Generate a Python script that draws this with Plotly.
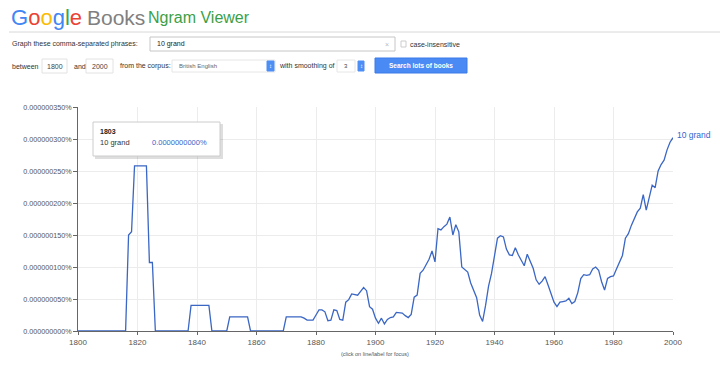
import plotly.graph_objects as go

# ---------------- data ----------------
years = list(range(1800, 2001))
# values in units of 1e-6 percent (e.g. 0.258 -> 0.000000258%)
vals_1800s = [0, 0, 0, 0, 0, 0, 0, 0, 0, 0,
              0, 0, 0, 0, 0, 0, 0, 0.15, 0.155, 0.258,
              0.258, 0.258, 0.258, 0.258, 0.107, 0.107, 0, 0, 0, 0,
              0, 0, 0, 0, 0, 0, 0, 0, 0.04, 0.04,
              0.04, 0.04, 0.04, 0.04, 0.04, 0, 0, 0, 0, 0,
              0, 0.022, 0.022, 0.022, 0.022, 0.022, 0.022, 0.022, 0, 0,
              0, 0, 0, 0, 0, 0, 0, 0, 0, 0,
              0.022, 0.022, 0.022, 0.022, 0.022, 0.022, 0.02, 0.017, 0.017, 0.017,
              0.025, 0.033, 0.033, 0.03, 0.016, 0.017, 0.033, 0.032, 0.018, 0.017,
              0.045, 0.049, 0.058, 0.057, 0.056, 0.062, 0.068, 0.063, 0.038, 0.034]
vals_1900s = [0.02, 0.012, 0.02, 0.011, 0.018, 0.021, 0.022, 0.029, 0.029, 0.028,
              0.024, 0.021, 0.026, 0.053, 0.056, 0.09, 0.095, 0.104, 0.112, 0.125,
              0.108, 0.16, 0.158, 0.163, 0.167, 0.178, 0.15, 0.166, 0.155, 0.1,
              0.096, 0.092, 0.075, 0.063, 0.052, 0.025, 0.015, 0.04, 0.07, 0.09,
              0.12, 0.145, 0.149, 0.147, 0.128, 0.119, 0.118, 0.13, 0.119, 0.11,
              0.102, 0.12, 0.11, 0.098, 0.08, 0.073, 0.078, 0.085, 0.072, 0.058,
              0.045, 0.038, 0.045, 0.046, 0.047, 0.051, 0.043, 0.046, 0.06, 0.082,
              0.088, 0.087, 0.088, 0.097, 0.1, 0.095, 0.077, 0.064, 0.082, 0.085,
              0.086, 0.097, 0.108, 0.118, 0.145, 0.152, 0.165, 0.177, 0.186, 0.192,
              0.213, 0.189, 0.21, 0.228, 0.224, 0.25, 0.26, 0.267, 0.283, 0.295,
              0.302]
series_name = "10 grand"
x_ticks = [1800, 1820, 1840, 1860, 1880, 1900, 1920, 1940, 1960, 1980, 2000]
y_ticks = [0, 0.05, 0.10, 0.15, 0.20, 0.25, 0.30, 0.35]  # units of 1e-6 %
y_tick_labels = ["0.000000000%", "0.000000050%", "0.000000100%", "0.000000150%",
                 "0.000000200%", "0.000000250%", "0.000000300%", "0.000000350%"]
tooltip_year = "1803"
tooltip_value = "0.0000000000%"

values = [v * 1e-6 for v in vals_1800s + vals_1900s]
yticks_pct = [t * 1e-6 for t in y_ticks]

# ---------------- geometry helpers ----------------
W, H = 720, 368
ML, MR, MT, MB = 78, 47, 107, 37
PW, PH = W - ML - MR, H - MT - MB


def X(px):
    return (px - ML) / PW


def Y(py):
    return (H - MB - py) / PH


FONT = "Liberation Sans, Arial, sans-serif"

fig = go.Figure()
fig.add_trace(go.Scatter(
    x=years, y=values, mode="lines", name=series_name,
    line=dict(color="#3a66c4", width=1.3), hoverinfo="skip", showlegend=False))

annotations = []
shapes = []


def txt(text, px, py, size=7, color="#333", xanchor="left", family=FONT):
    annotations.append(dict(text=text, x=X(px), y=Y(py), xref="paper", yref="paper",
                            xanchor=xanchor, yanchor="middle", showarrow=False,
                            font=dict(size=size, color=color, family=family)))


def rect(x0, y0, x1, y1, line="#cfcfcf", fill="white", lw=1):
    shapes.append(dict(type="rect", xref="paper", yref="paper",
                       x0=X(x0), x1=X(x1), y0=Y(y1), y1=Y(y0),
                       line=dict(color=line, width=lw), fillcolor=fill, layer="above"))


# header
google = ("<span style='color:#4285f4'>G</span><span style='color:#ea4335'>o</span>"
          "<span style='color:#fbbc05'>o</span><span style='color:#4285f4'>g</span>"
          "<span style='color:#34a853'>l</span><span style='color:#ea4335'>e</span>")
txt(google, 9, 17, size=22)
txt("Books", 85, 17, size=21, color="#808080")
txt("Ngram Viewer", 146, 17, size=16, color="#3c9f47")
shapes.append(dict(type="line", xref="paper", yref="paper", x0=X(9), x1=X(720),
                   y0=Y(32), y1=Y(32), line=dict(color="#d8d8d8", width=1)))

# row 1
txt("Graph these comma-separated phrases:", 10, 44, size=7)
rect(150, 37, 395, 51, line="#c6c6c6")
txt(series_name, 155, 44, size=7, color="#222")
txt("×", 387, 44, size=7, color="#bbb", xanchor="center")
rect(401, 41, 406, 47, line="#cccccc")
txt("case-insensitive", 408, 44, size=7)

# row 2
txt("between", 10, 66, size=7)
rect(42, 59, 67, 73, line="#e2e2e2")
txt("1800", 54.5, 66, size=7, color="#444", xanchor="center")
txt("and", 72, 66, size=7)
rect(86, 59, 113, 73, line="#e2e2e2")
txt("2000", 99.5, 66, size=7, color="#444", xanchor="center")
txt("from the corpus:", 118, 66, size=7)
rect(172, 60, 275, 72, line="#e6e6e6")
txt("British English", 177, 66, size=6, color="#666")
rect(267, 61, 274, 71, line="#4d8ef5", fill="#4d8ef5")
txt("↕", 270.5, 66, size=6, color="white", xanchor="center")
txt("with smoothing of", 277, 66, size=7)
rect(337, 60, 355, 72, line="#e6e6e6")
txt("3", 346, 66, size=6, color="#444", xanchor="center")
rect(358, 61, 364, 71, line="#4d8ef5", fill="#4d8ef5")
txt("↕", 361, 66, size=6, color="white", xanchor="center")
rect(375, 58, 467, 73, line="#3b7be8", fill="#4a8af4")
txt("<b>Search lots of books</b>", 421, 65.5, size=6.5, color="white", xanchor="center")

# tooltip
shapes.append(dict(type="rect", xref="paper", yref="paper", x0=X(95), x1=X(223),
                   y0=Y(159), y1=Y(124), line=dict(width=0),
                   fillcolor="rgba(0,0,0,0.13)", layer="above"))
rect(93, 122, 220, 156, line="#cccccc")
txt("<b>" + tooltip_year + "</b>", 98, 131, size=7, color="#222")
txt(series_name, 98, 142, size=7.5, color="#333")
txt(tooltip_value, 150, 142, size=7.5, color="#3366cc")

# end label and footer
annotations.append(dict(text=series_name, x=years[-1], y=values[-1], xref="x", yref="y",
                        xanchor="left", yanchor="middle", xshift=2, yshift=3, showarrow=False,
                        font=dict(size=8.5, color="#3366cc", family=FONT)))
txt("(click on line/label for focus)", 375, 354, size=5.5, color="#555", xanchor="center")

fig.update_layout(
    width=W, height=H, margin=dict(l=ML, r=MR, t=MT, b=MB),
    paper_bgcolor="white", plot_bgcolor="white",
    font=dict(family=FONT, color="#444"),
    annotations=annotations, shapes=shapes, showlegend=False,
    xaxis=dict(range=[1800, 2000], tickvals=x_ticks, showgrid=True, gridcolor="#ececec",
               showline=True, linecolor="#666", linewidth=1, ticks="outside", ticklen=3,
               tickcolor="#666", zeroline=False, tickfont=dict(size=8, color="#555")),
    yaxis=dict(range=[0, 0.35e-6], tickvals=yticks_pct, ticktext=y_tick_labels,
               showgrid=True, gridcolor="#ececec", showline=True, linecolor="#666", linewidth=1,
               ticks="outside", ticklen=4, tickcolor="#666", zeroline=False,
               tickfont=dict(size=7.2, color="#555")),
)

fig.write_html("out.html")
